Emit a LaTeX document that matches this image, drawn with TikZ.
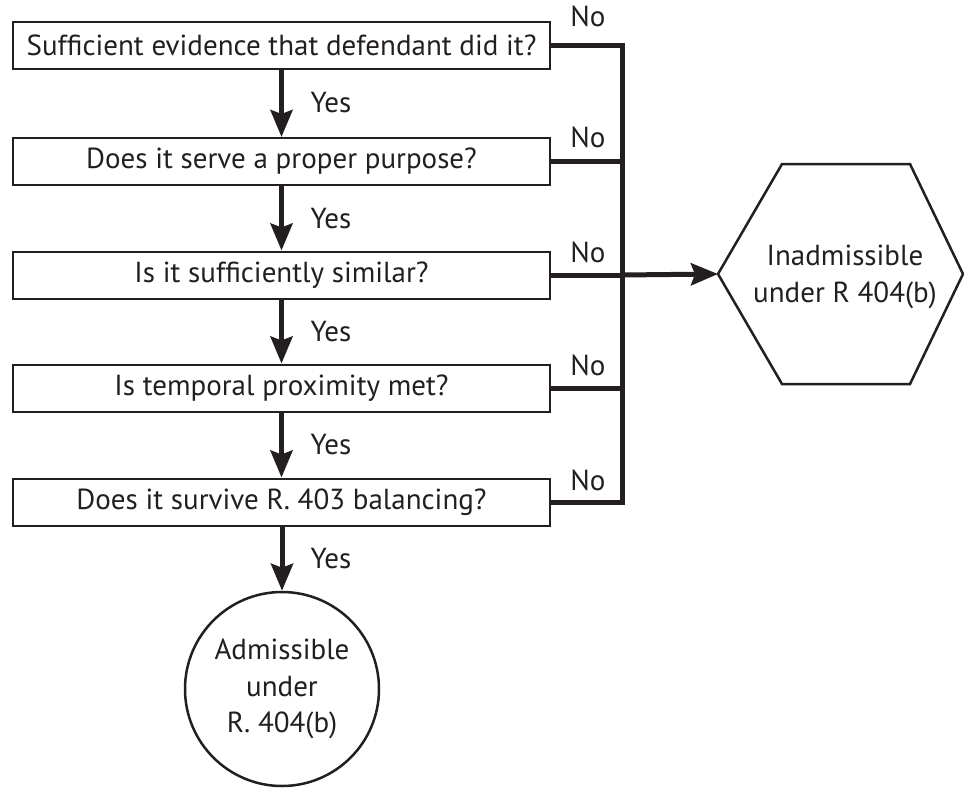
\documentclass[tikz,border=0pt]{standalone}
\usepackage{fontspec}
\setmainfont{PT Sans}
\usetikzlibrary{arrows.meta}
\definecolor{ink}{HTML}{231F20}
\begin{document}
\begin{tikzpicture}[x=1pt,y=-1pt,
  every node/.style={font=\fontsize{29}{36.5}\selectfont, text=ink},
  qbox/.style={draw=ink, line width=2pt, minimum width=537pt, minimum height=47pt, inner sep=0pt},
  flow/.style={draw=ink, line width=5pt},
  yesarrow/.style={flow, -{Stealth[length=27pt,width=22pt,inset=4pt]}},
  lbl/.style={inner sep=0pt}]
\useasboundingbox (0,0) rectangle (964,788);

\node[qbox] (q1) at (281.5,45.5) {Sufficient evidence that defendant did it?};
\node[qbox] (q2) at (281.5,161.5) {Does it serve a proper purpose?};
\node[qbox] (q3) at (281.5,275) {Is it sufficiently similar?};
\node[qbox] (q4) at (281.5,388) {Is temporal proximity met?};
\node[qbox] (q5) at (281.5,502) {Does it survive R. 403 balancing?};

\node[draw=ink, line width=2.5pt, circle, minimum size=194pt, inner sep=0pt, align=center] (adm) at (282,689) {Admissible\\under\\R. 404(b)};

% hexagon
\coordinate (hw) at (718,274);
\draw[draw=ink, line width=2.5pt] (hw) -- (782,164) -- (910,164) -- (963,274) -- (910,384) -- (782,384) -- cycle;
\node[align=center] (inad) at (845,277) {Inadmissible\\under R 404(b)};

% yes arrows
\draw[yesarrow] (q1.south) -- (q2.north);
\draw[yesarrow] (q2.south) -- (q3.north);
\draw[yesarrow] (q3.south) -- (q4.north);
\draw[yesarrow] (q4.south) -- (q5.north);
\draw[yesarrow] (q5.south -| adm.north) -- (adm.north);

\node[lbl] (y1) at (331,103) {Yes};
\node[lbl] (y2) at (331,219) {Yes};
\node[lbl] (y3) at (331,332) {Yes};
\node[lbl] (y4) at (331,445) {Yes};
\node[lbl] (y5) at (331,559) {Yes};

% no branches
\coordinate (bus1) at (622,45.5);
\coordinate (bus5) at (622,502);
\coordinate (bus3) at (622,275);
\draw[flow, line cap=butt] (q1.east) -- (bus1) -- (bus5) -- (q5.east);
\draw[flow] (q2.east) -- (q2.east -| bus1);
\draw[flow] (q3.east) -- (q3.east -| bus1);
\draw[flow] (q4.east) -- (q4.east -| bus1);
\draw[yesarrow] (bus3) -- (hw);

\node[lbl] (n1) at (588,16) {No};
\node[lbl] (n2) at (588,137) {No};
\node[lbl] (n3) at (588,252) {No};
\node[lbl] (n4) at (588,365) {No};
\node[lbl] (n5) at (588,480) {No};
\end{tikzpicture}
\end{document}
